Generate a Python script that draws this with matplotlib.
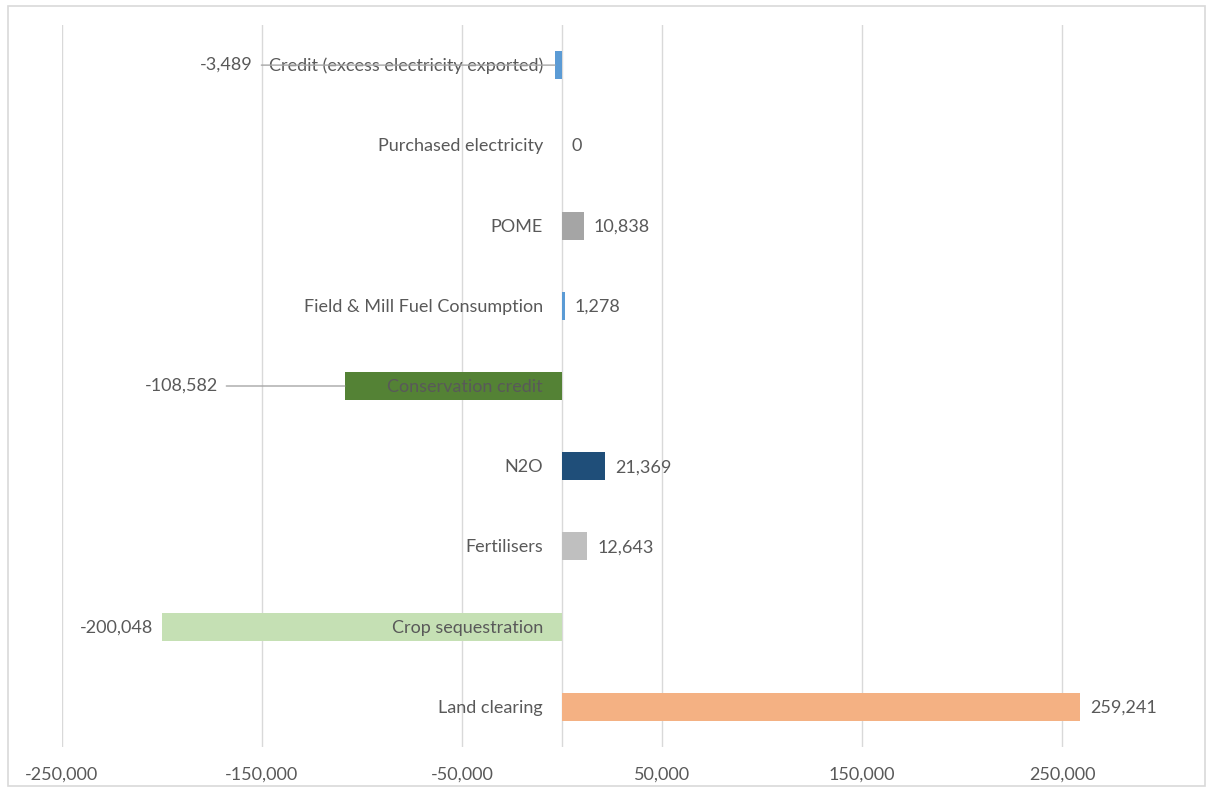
import matplotlib.pyplot as plt
from matplotlib.patches import Rectangle
from matplotlib.ticker import FuncFormatter

plt.rcParams['font.family'] = ['Lato', 'DejaVu Sans']

# sources of emissions, top to bottom
categories = ['Credit (excess electricity exported)', 'Purchased electricity', 'POME',
              'Field & Mill Fuel Consumption', 'Conservation credit', 'N2O',
              'Fertilisers', 'Crop sequestration', 'Land clearing']
values = [-3489, 0, 10838, 1278, -108582, 21369, 12643, -200048, 259241]
colors = ['#5b9bd5', '#5b9bd5', '#a5a5a5', '#5b9bd5', '#548235', '#1f4e79',
          '#bfbfbf', '#c5e0b4', '#f4b183']
# data labels that Excel pulled away from their bars (label right edge, in data units)
moved_labels = {0: -154500, 4: -172000}

ticks = list(range(-250000, 250001, 100000))
text_col = '#595959'
grid_col = '#d9d9d9'
fs = 13

fig = plt.figure(figsize=(12.1, 7.91), dpi=100)
ax = fig.add_axes([62 / 1210, 1 - 747 / 791, 1100 / 1210, 722 / 791])

fig.patches.append(Rectangle((8 / 1210, 1 - 786 / 791), 1197 / 1210, 780 / 791,
                             transform=fig.transFigure, fill=False,
                             edgecolor=grid_col, lw=1.2))

pos = list(range(len(categories)))
ax.barh(pos, values, height=0.35, color=colors, zorder=3)

ax.set_xlim(-250000, 300000)
ax.set_ylim(len(categories) - 0.5, -0.5)
ax.set_xticks(ticks)
ax.xaxis.set_major_formatter(FuncFormatter(lambda v, p: f'{int(v):,}'))
ax.set_yticks([])
ax.grid(axis='x', color=grid_col, lw=1, zorder=0)
ax.axvline(0, color=grid_col, lw=1, zorder=1)
ax.tick_params(axis='x', length=0, pad=14, labelsize=fs, labelcolor=text_col)
for s in ax.spines.values():
    s.set_visible(False)

for i, (cat, v) in enumerate(zip(categories, values)):
    # category name sits just left of the zero line
    ax.annotate(cat, xy=(0, i), xytext=(-19, -1), textcoords='offset pixels',
                ha='right', va='center', fontsize=fs, color=text_col, zorder=4)
    lab = f'{v:,}'
    if i in moved_labels:
        ax.annotate(lab, xy=(v, i), xytext=(moved_labels[i], i),
                    ha='right', va='center', fontsize=fs, color=text_col, zorder=5,
                    arrowprops=dict(arrowstyle='-', color='#a6a6a6', lw=1,
                                    shrinkA=4, shrinkB=0, relpos=(1, 0.5)))
    elif v < 0:
        ax.annotate(lab, xy=(v, i), xytext=(-9, -1), textcoords='offset pixels',
                    ha='right', va='center', fontsize=fs, color=text_col)
    else:
        ax.annotate(lab, xy=(v, i), xytext=(10, -1), textcoords='offset pixels',
                    ha='left', va='center', fontsize=fs, color=text_col)

fig.savefig('out.png', dpi=100)
